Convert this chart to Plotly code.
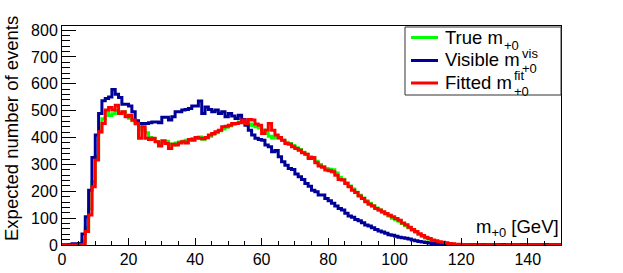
import plotly.graph_objects as go

# bin edges: 0..150 GeV, 1 GeV bins
bin_edges = list(range(0, 151))

true_m = [
    0, 0, 0, 0, 0, 1, 15, 65, 135, 235,
    330, 420, 470, 500, 482, 488, 500, 490, 495, 480,
    472, 462, 450, 440, 428, 418, 400, 395, 385, 378,
    382, 386, 376, 372, 380, 383, 386, 390, 392, 396,
    398, 402, 394, 398, 405, 412, 418, 425, 432, 438,
    444, 448, 452, 458, 460, 455, 450, 445, 440, 435,
    428, 415, 405, 398, 400, 396, 390, 382, 378, 370,
    362, 355, 345, 338, 328, 322, 312, 300, 292, 285,
    282, 280, 268, 252, 245, 232, 220, 208, 196, 185,
    175, 165, 155, 146, 138, 130, 122, 115, 108, 100,
    94, 88, 80, 72, 64, 55, 47, 39, 32, 26,
    21, 16, 12, 9, 7, 5, 4, 3, 2, 2,
    1, 1, 1, 0, 1, 0, 0, 0, 0, 0,
    0, 0, 0, 0, 0, 0, 0, 0, 0, 0,
    0, 0, 0, 0, 0, 0, 0, 0, 0, 0,
]

visible_m = [
    1, 1, 2, 5, 5, 6, 41, 105, 204, 326,
    409, 489, 537, 545, 551, 579, 561, 549, 524, 524,
    517, 496, 462, 452, 452, 452, 455, 458, 458, 455,
    475, 475, 465, 477, 496, 496, 502, 504, 508, 517,
    517, 536, 489, 514, 504, 496, 502, 489, 496, 477,
    489, 480, 471, 483, 467, 446, 427, 409, 397, 393,
    390, 372, 366, 347, 352, 328, 310, 297, 285, 281,
    264, 254, 244, 229, 219, 204, 198, 186, 186, 173,
    165, 155, 145, 136, 130, 118, 108, 103, 95, 90,
    83, 74, 71, 64, 58, 52, 48, 44, 38, 36,
    33, 29, 27, 25, 22, 19, 16, 13, 11, 9,
    7, 6, 5, 4, 4, 3, 3, 2, 2, 2,
    2, 2, 1, 2, 1, 1, 2, 1, 1, 1,
    1, 1, 2, 1, 1, 1, 1, 1, 2, 1,
    1, 1, 1, 1, 1, 2, 1, 1, 1, 1,
]

fitted_m = [
    0, 0, 0, 0, 0, 1, 2, 50, 112, 217,
    316, 421, 452, 502, 512, 502, 520, 489, 496, 477,
    483, 465, 452, 397, 440, 397, 393, 397, 384, 368,
    388, 378, 359, 375, 372, 380, 384, 380, 393, 390,
    400, 397, 395, 400, 409, 415, 421, 427, 440, 442,
    446, 452, 452, 455, 465, 452, 467, 465, 450, 446,
    415, 427, 452, 427, 409, 400, 390, 378, 375, 366,
    359, 353, 343, 338, 322, 326, 306, 294, 289, 279,
    276, 273, 260, 244, 242, 229, 217, 204, 195, 182,
    173, 161, 152, 145, 136, 130, 124, 117, 111, 105,
    99, 92, 82, 75, 66, 58, 50, 42, 35, 29,
    24, 19, 16, 12, 10, 8, 6, 5, 3, 3,
    2, 2, 1, 1, 1, 1, 0, 1, 0, 0,
    0, 0, 0, 0, 0, 0, 0, 0, 0, 0,
    0, 0, 0, 0, 0, 0, 0, 0, 0, 0,
]

series = [
    ("True", true_m, "#00ff00"),
    ("Visible", visible_m, "#000099"),
    ("Fitted", fitted_m, "#ff0000"),
]

W, H = 623, 273
L, R, T, B = 62, 561, 26, 245
FONT = "Liberation Sans, Arial, Helvetica, sans-serif"


def px(x):
    return (x - L) / (R - L)


def py(y):
    return (B - y) / (B - T)


fig = go.Figure()
for name, vals, col in series:
    fig.add_trace(go.Scatter(
        x=bin_edges, y=vals + [vals[-1]], mode="lines", line_shape="hv",
        line=dict(color=col, width=3), name=name, showlegend=False,
        hoverinfo="skip"))

annotations = []
shapes = []

# legend box
shapes.append(dict(type="rect", xref="paper", yref="paper",
                   x0=px(405), x1=px(561), y0=py(95), y1=py(27),
                   line=dict(color="#333333", width=1), fillcolor="white",
                   layer="above"))
rows = [37.5, 60.5, 83.0]
for (name, vals, col), ry in zip(series, rows):
    shapes.append(dict(type="line", xref="paper", yref="paper",
                       x0=px(411), x1=px(438), y0=py(ry), y1=py(ry),
                       line=dict(color=col, width=3), layer="above"))


def ann(text, x, y, size, xanchor="left", yanchor="middle", angle=0):
    annotations.append(dict(text=text, x=px(x), y=py(y), xref="paper",
                            yref="paper", xanchor=xanchor, yanchor=yanchor,
                            showarrow=False, borderpad=0, textangle=angle,
                            font=dict(family=FONT, size=size, color="black")))


ann("True m", 444, 37, 18.5)
ann("+0", 503, 45, 13)
ann("Visible m", 444, 59.5, 18.5)
ann("vis", 521, 53, 13)
ann("+0", 521, 68, 13)
ann("Fitted m", 444, 82, 18.5)
ann("fit", 513, 75, 13)
ann("+0", 513, 91, 13)

# axis titles
ann("m<sub>+0</sub> [GeV]", 560, 228, 18.5, xanchor="right")
ann("Expected number of events", 11, 129, 18.5, xanchor="center", angle=-90)

fig.update_layout(
    width=W, height=H,
    margin=dict(l=L, r=W - R, t=T, b=H - B, pad=0, autoexpand=False),
    paper_bgcolor="white", plot_bgcolor="white",
    font=dict(family=FONT, size=16, color="black"),
    shapes=shapes, annotations=annotations,
    xaxis=dict(range=[0, 150], tick0=0, dtick=20, ticks="inside", ticklen=7,
               tickwidth=1, tickcolor="black", showline=True, linecolor="black",
               linewidth=1, mirror=True, showgrid=False, zeroline=False,
               automargin=False, tickfont=dict(size=16),
               minor=dict(dtick=5, ticks="inside", ticklen=4,
                          tickcolor="black", showgrid=False)),
    yaxis=dict(range=[0, 815], tick0=0, dtick=100, ticks="inside", ticklen=14,
               tickwidth=1, tickcolor="black", showline=True, linecolor="black",
               linewidth=1, mirror=True, showgrid=False, zeroline=False,
               automargin=False, tickfont=dict(size=16),
               minor=dict(dtick=20, ticks="inside", ticklen=8,
                          tickcolor="black", showgrid=False)),
)

fig.write_html("out.html",
               config={"displayModeBar": False},
               post_script="document.body.style.margin='0';"
                           "document.body.style.padding='0';")
